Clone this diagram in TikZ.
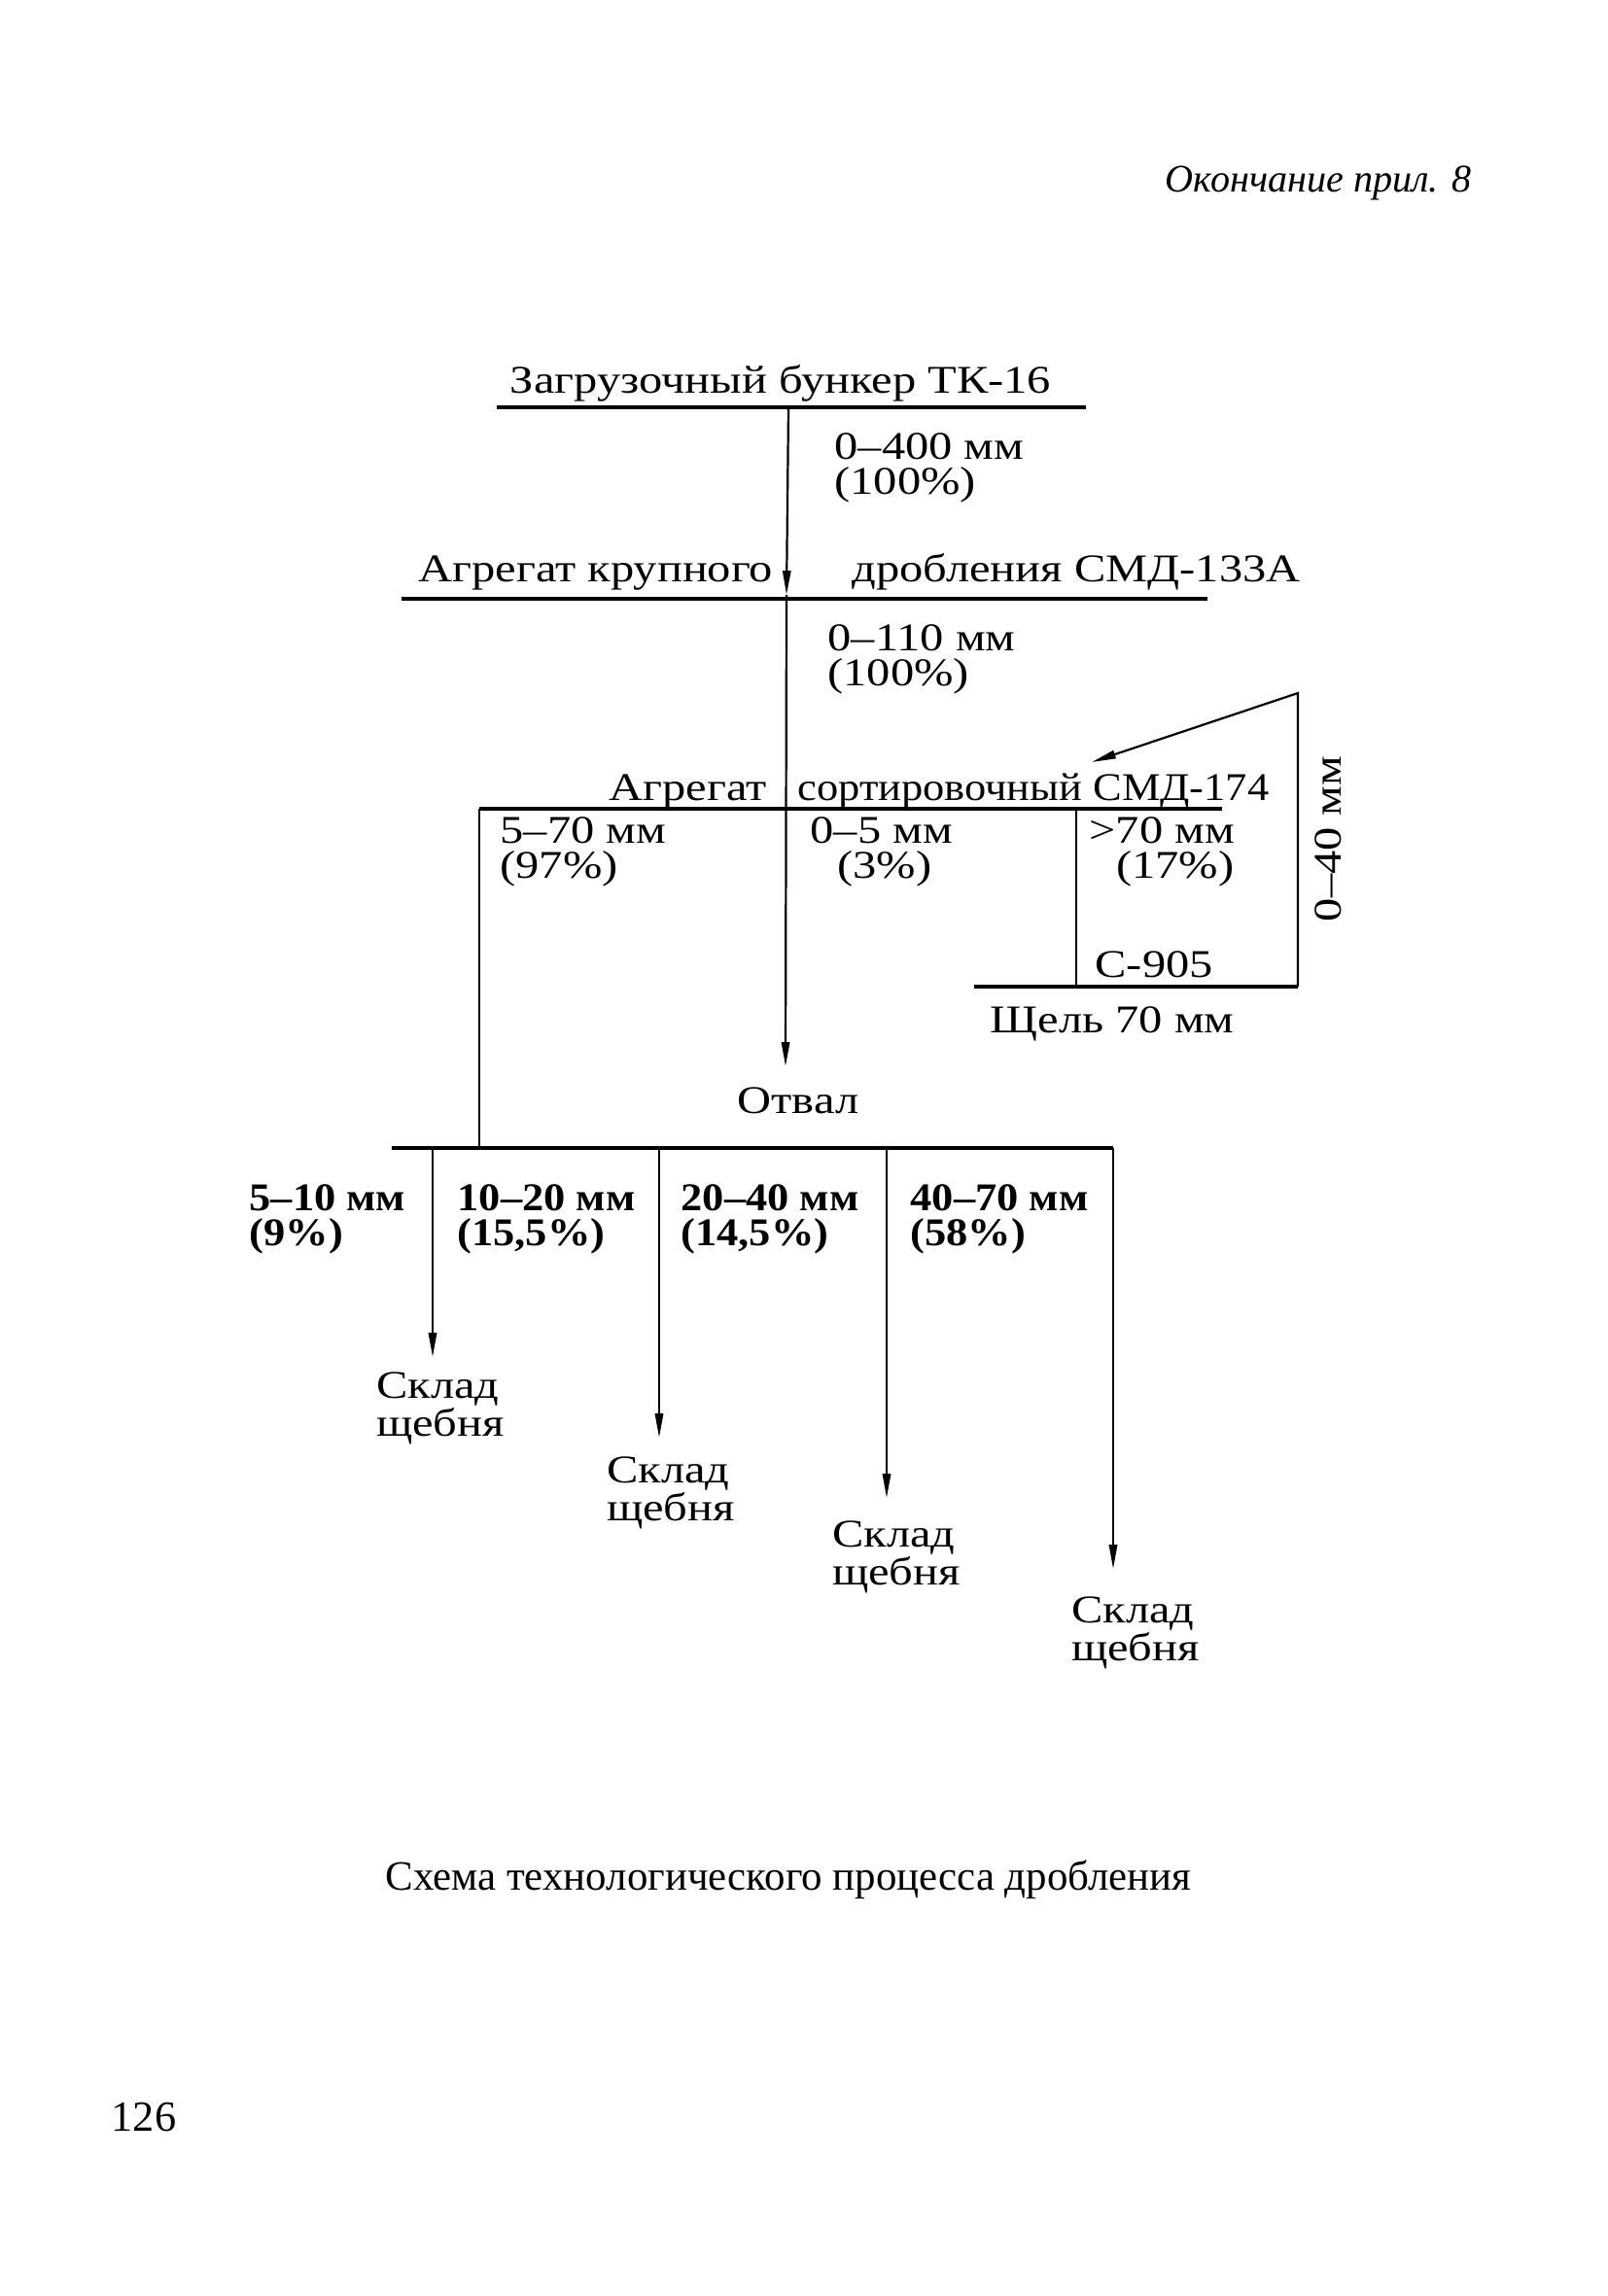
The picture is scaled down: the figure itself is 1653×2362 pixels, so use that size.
\documentclass[tikz,border=0pt]{standalone}
\usepackage{fontspec}
\setmainfont{Liberation Serif}
\newfontfamily\schemefont[FakeStretch=1.2]{Liberation Serif}
\newfontfamily\schemenarrow[FakeStretch=1.1]{Liberation Serif}
\usetikzlibrary{arrows.meta}
\usetikzlibrary{positioning}

\begin{document}
\begin{tikzpicture}[x=0.127mm,y=-0.127mm,
    bar/.style={line width=1.3pt},
    flow/.style={line width=0.8pt},
    arr/.style={flow,-{Triangle[length=9pt,width=3pt]}},
    lbl/.style={font=\schemefont\fontsize{14.6}{13}\selectfont,inner sep=0pt},
    frac/.style={lbl,align=left,anchor=north west},
    grade/.style={frac,font=\schemenarrow\bfseries\fontsize{14.6}{13}\selectfont},
    store/.style={lbl,align=left,anchor=north}]
  \useasboundingbox (0,0) rectangle (1653,2362);
  \node[font=\itshape\fontsize{14.5}{17}\selectfont,anchor=base east] (head) at (1523,198) {Окончание прил. 8};
  % bars
  \coordinate (A1) at (511,419);  \coordinate (A2) at (1117,419);
  \coordinate (B1) at (413,616);  \coordinate (B2) at (1242,616);
  \coordinate (C1) at (493,832);  \coordinate (C2) at (1257,832);
  \coordinate (D1) at (1002,1015); \coordinate (D2) at (1335,1015);
  \coordinate (E1) at (403,1181); \coordinate (E2) at (1145,1181);
  \draw[bar] (A1) -- (A2);
  \draw[bar] (B1) -- (B2);
  \draw[bar] (C1) -- (C2);
  \draw[bar] (D1) -- (D2);
  \draw[bar] (E1) -- (E2);
  \node[lbl,anchor=base] (bunker) at (803,405) {Загрузочный бункер ТК-16};
  \node[lbl,anchor=base west] (crush1) at (430,598) {Агрегат крупного};
  \node[lbl,anchor=base west] (crush2) at (876,598) {дробления СМД-133А};
  \node[lbl,anchor=base west] (sort1) at (626,823) {Агрегат};
  \node[lbl,font=\schemenarrow\fontsize{14.6}{13}\selectfont,anchor=base west] (sort2) at (820,823) {сортировочный СМД-174};
  \node[lbl,anchor=base west] (c905) at (1126,1005) {С-905};
  \node[lbl,anchor=north west] (slot) at (1018,1035) {Щель 70 мм};
  % main flow
  \coordinate (top) at (811,419);
  \coordinate (crush) at (809,612);
  \coordinate (sort) at (808,832);
  \coordinate (dump) at (808,1097);
  \draw[arr] (top) -- (crush);
  \draw[arr] (crush) -- (dump);
  \node[lbl,anchor=north] (otval) at (821,1118) {Отвал};
  \node[frac] (f400) at (858,445) {0–400 мм\\(100\%)};
  \node[frac] (f110) at (851,642) {0–110 мм\\(100\%)};
  % sorting outputs
  \node[frac] (f570) at (514,840) {5–70 мм\\(97\%)};
  \node[frac] (f05) at (833,840) {0–5 мм\\\hspace*{10pt}(3\%)};
  \node[frac] (f70) at (1120,840) {>70 мм\\\hspace*{10pt}(17\%)};
  \coordinate (big) at (1107,832);
  \coordinate (bigd) at (1107,1015);
  \draw[flow] (big) -- (bigd);
  \coordinate (back) at (1335,713);
  \coordinate (backtip) at (1123,784);
  \draw[arr] (D2) -- (back) -- (backtip);
  \node[lbl,rotate=90] (f040) at (1366,863) {0–40 мм};
  \coordinate (mid) at (493,1181);
  \draw[flow] (C1) -- (mid);
  % fractions to stock
  \node[grade] (g1) at (256,1218) {5–10 мм\\(9\%)};
  \node[grade] (g2) at (470,1218) {10–20 мм\\(15,5\%)};
  \node[grade] (g3) at (700,1218) {20–40 мм\\(14,5\%)};
  \node[grade] (g4) at (936,1218) {40–70 мм\\(58\%)};
  \foreach \x/\tip/\cx/\ty [count=\n] in {445/1396/453/1411, 678/1479/690/1498, 912/1541/922/1564, 1145/1614/1168/1642} {
    \coordinate (p\n) at (\x,1181);
    \coordinate (s\n) at (\x,\tip);
    \draw[arr] (p\n) -- (s\n);
    \node[store] (skl\n) at (\cx,\ty) {Склад\\щебня};
  }
  \node[font=\fontsize{15.5}{18}\selectfont,anchor=base] (caption) at (811,1944) {Схема технологического процесса дробления};
  \node[font=\fontsize{16}{19}\selectfont,anchor=base west] (page) at (105,2192) {126};
\end{tikzpicture}
\end{document}
